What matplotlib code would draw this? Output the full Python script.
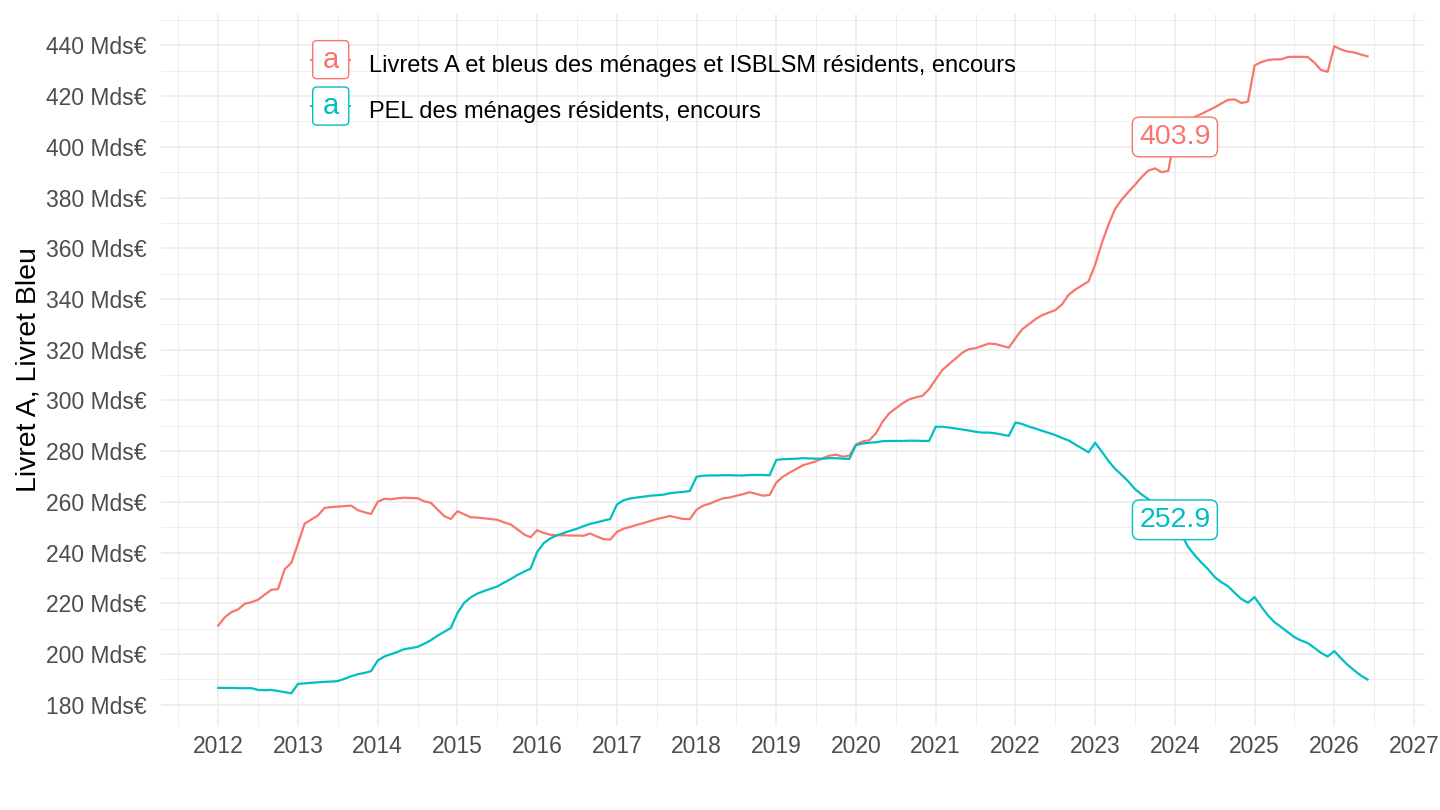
import numpy as np
import matplotlib
matplotlib.use("Agg")
import matplotlib.pyplot as plt
from matplotlib.lines import Line2D
from matplotlib.patches import FancyBboxPatch
from matplotlib.text import Text
from matplotlib.legend_handler import HandlerBase
from matplotlib.ticker import MultipleLocator, FuncFormatter

# monthly series, January 2012 -> June 2026 (Mds EUR)
start_year = 2012

livret_a = [
    211.2, 214.5, 216.5, 217.6, 219.8, 220.4, 221.4, 223.4, 225.3, 225.6, 233.4, 235.9,  # 2012
    243.5, 251.4, 253.0, 254.6, 257.6, 257.9, 258.1, 258.3, 258.5, 256.7, 255.9, 255.2,  # 2013
    260.0, 261.2, 261.0, 261.4, 261.6, 261.5, 261.4, 260.2, 259.6, 257.0, 254.4, 253.2,  # 2014
    256.3, 255.1, 253.9, 253.8, 253.5, 253.2, 252.9, 251.9, 251.1, 249.2, 247.2, 246.0,  # 2015
    248.8, 247.7, 247.0, 246.8, 246.8, 246.7, 246.7, 246.6, 247.5, 246.3, 245.3, 245.1,  # 2016
    248.1, 249.4, 250.1, 250.9, 251.6, 252.4, 253.2, 253.8, 254.4, 253.8, 253.2, 253.2,  # 2017
    256.9, 258.5, 259.3, 260.4, 261.4, 261.7, 262.4, 263.0, 263.8, 263.1, 262.4, 262.7,  # 2018
    267.6, 269.9, 271.5, 272.9, 274.4, 275.2, 276.0, 277.2, 278.2, 278.6, 277.8, 278.2,  # 2019
    282.6, 283.8, 284.3, 287.0, 291.6, 294.9, 296.9, 298.8, 300.4, 301.2, 301.8, 304.4,  # 2020
    308.3, 312.0, 314.3, 316.5, 318.8, 320.2, 320.6, 321.5, 322.4, 322.2, 321.5, 320.8,  # 2021
    324.5, 328.0, 330.0, 332.0, 333.6, 334.6, 335.6, 337.8, 341.6, 343.7, 345.3, 346.9,  # 2022
    353.5, 362.0, 369.3, 375.5, 379.2, 382.2, 385.0, 388.1, 390.6, 391.5, 390.0, 390.5,  # 2023
    403.9, 408.5, 410.5, 411.8, 413.0, 414.3, 415.6, 417.1, 418.5, 418.7, 417.3, 417.8,  # 2024
    432.1, 433.4, 434.2, 434.5, 434.5, 435.4, 435.5, 435.5, 435.4, 433.2, 430.3, 429.6,  # 2025
    439.7, 438.4, 437.6, 437.2, 436.4, 435.7,                                            # 2026
]

pel = [
    186.6, 186.6, 186.6, 186.5, 186.5, 186.5, 185.8, 185.7, 185.8, 185.4, 184.9, 184.5,  # 2012
    188.2, 188.4, 188.6, 188.8, 189.0, 189.1, 189.3, 190.2, 191.2, 192.0, 192.5, 193.2,  # 2013
    197.4, 199.0, 199.9, 200.8, 201.9, 202.3, 202.8, 204.0, 205.4, 207.2, 208.7, 210.2,  # 2014
    216.1, 220.1, 222.3, 223.8, 224.8, 225.7, 226.6, 228.1, 229.5, 231.1, 232.4, 233.6,  # 2015
    240.2, 243.7, 245.6, 246.8, 247.7, 248.6, 249.4, 250.4, 251.3, 251.9, 252.6, 253.2,  # 2016
    258.9, 260.6, 261.3, 261.7, 262.0, 262.4, 262.6, 262.8, 263.4, 263.7, 263.9, 264.3,  # 2017
    269.9, 270.3, 270.4, 270.4, 270.5, 270.5, 270.4, 270.4, 270.6, 270.6, 270.6, 270.5,  # 2018
    276.5, 276.8, 276.9, 277.0, 277.2, 277.1, 277.0, 277.0, 277.2, 277.2, 277.0, 276.9,  # 2019
    282.4, 283.0, 283.3, 283.5, 283.9, 284.0, 284.0, 284.0, 284.1, 284.1, 284.0, 284.0,  # 2020
    289.6, 289.6, 289.3, 288.9, 288.5, 288.1, 287.6, 287.3, 287.3, 287.0, 286.5, 286.0,  # 2021
    291.3, 290.7, 289.7, 288.9, 288.0, 287.2, 286.3, 285.2, 284.2, 282.6, 281.1, 279.5,  # 2022
    283.3, 279.8, 276.1, 273.0, 270.6, 268.0, 265.0, 262.9, 261.1, 258.6, 255.8, 251.8,  # 2023
    252.9, 247.0, 242.2, 238.9, 236.0, 233.4, 230.3, 228.3, 226.7, 224.1, 221.7, 220.2,  # 2024
    222.4, 218.7, 215.2, 212.5, 210.6, 208.6, 206.6, 205.3, 204.3, 202.4, 200.4, 199.0,  # 2025
    201.1, 198.3, 195.7, 193.5, 191.5, 189.9,                                            # 2026
]

series_names = [
    "Livrets A et bleus des ménages et ISBLSM résidents, encours",
    "PEL des ménages résidents, encours",
]
series_colors = ["#F8766D", "#00BFC4"]
label_year = 2024.0  # value labels are put on January 2024

plt.rcParams["font.family"] = ["Liberation Sans", "DejaVu Sans"]


class LabelKeyHandler(HandlerBase):
    """Legend key drawn like a ggplot geom_label key: an 'a' in a rounded box."""

    def create_artists(self, legend, orig_handle, xdescent, ydescent,
                       width, height, fontsize, trans):
        color = orig_handle.get_color()
        x0 = -xdescent
        box_h = 27.4
        box_y = -5.0
        mid = box_y + box_h / 2
        nub = Line2D([x0 - 1.2, x0 + width + 1.2], [mid, mid], color=color,
                     lw=1.4, transform=trans)
        box = FancyBboxPatch((x0, box_y), width, box_h,
                             boxstyle="round,pad=0,rounding_size=3",
                             fc="white", ec=color, lw=1.0, transform=trans)
        txt = Text(x0 + width / 2, mid, "a", color=color, fontsize=21,
                   ha="center", va="center", transform=trans)
        return [nub, box, txt]


def main():
    n = len(livret_a)
    x = start_year + np.arange(n) / 12.0

    fig = plt.figure(figsize=(14.4, 8.1), dpi=100)
    ax = fig.add_axes([160.8 / 1440, 1 - 725.6 / 810, (1425 - 160.8) / 1440, (725.6 - 13.8) / 810])

    handles = []
    for values, color in zip([livret_a, pel], series_colors):
        line, = ax.plot(x, values, color=color, lw=1.6, zorder=3, solid_joinstyle="round")
        handles.append(line)

    # value labels
    idx = int(round((label_year - start_year) * 12))
    for values, color in zip([livret_a, pel], series_colors):
        ax.text(x[idx], values[idx], f"{values[idx]:.1f}", color=color, fontsize=20.5,
                ha="center", va="center", zorder=5,
                bbox=dict(boxstyle="round,pad=0.24,rounding_size=0.25", fc="white",
                          ec=color, lw=1.0))

    # ggplot-like 5% expansion
    xr = x[-1] - x[0]
    ax.set_xlim(x[0] - 0.05 * xr, x[-1] + 0.05 * xr)
    ymin = min(min(livret_a), min(pel))
    ymax = max(max(livret_a), max(pel))
    yr = ymax - ymin
    ax.set_ylim(ymin - 0.05 * yr, ymax + 0.05 * yr)

    ax.xaxis.set_major_locator(MultipleLocator(1))
    ax.xaxis.set_minor_locator(MultipleLocator(0.5))
    ax.yaxis.set_major_locator(MultipleLocator(20))
    ax.yaxis.set_minor_locator(MultipleLocator(10))
    ax.xaxis.set_major_formatter(FuncFormatter(lambda v, p: f"{int(round(v))}"))
    ax.yaxis.set_major_formatter(FuncFormatter(lambda v, p: f"{int(round(v))} Mds€"))

    ax.grid(which="major", color="#EBEBEB", lw=1.15)
    ax.grid(which="minor", color="#EBEBEB", lw=0.6)
    ax.set_axisbelow(True)
    for s in ax.spines.values():
        s.set_visible(False)
    ax.tick_params(which="both", length=0, labelsize=16.5, labelcolor="#4D4D4D")
    ax.tick_params(axis="x", pad=7)
    ax.tick_params(axis="y", pad=10)

    ax.set_ylabel("Livret A, Livret Bleu", fontsize=20.5, color="black")
    ax.yaxis.set_label_coords((42 - 160.8) / (1425 - 160.8), 0.5)

    ax.legend(handles=handles, labels=series_names,
              handler_map={Line2D: LabelKeyHandler()},
              loc="upper left", bbox_to_anchor=(312.7 / 1440, 1 - 46.0 / 810),
              bbox_transform=fig.transFigure, frameon=False, borderpad=0,
              borderaxespad=0, handlelength=1.527, handleheight=2.0,
              handletextpad=0.85, labelspacing=0.42, fontsize=17)

    fig.savefig("out.png", dpi=100)


if __name__ == "__main__":
    main()
